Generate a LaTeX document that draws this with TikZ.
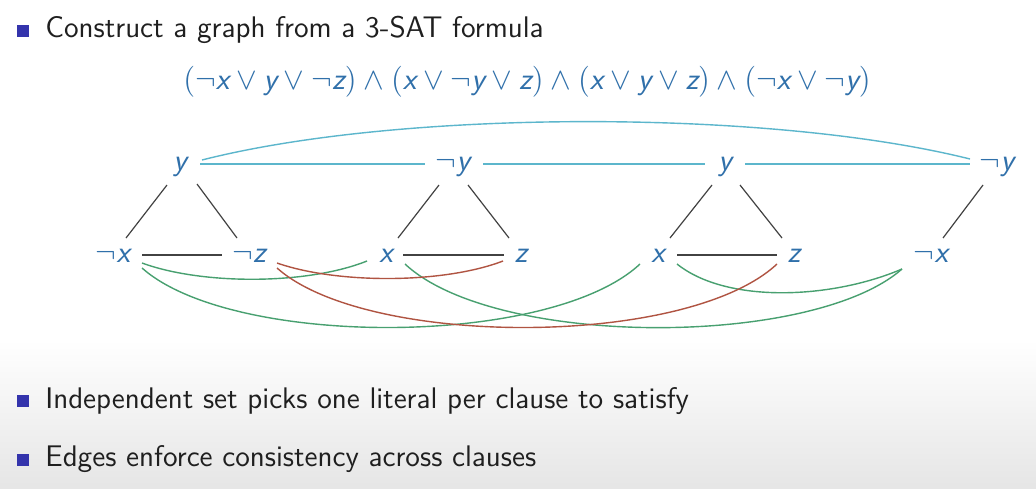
\RequirePackage{fix-cm}
\documentclass[tikz,border=0pt]{standalone}
\usetikzlibrary{calc}
\definecolor{litblue}{RGB}{48,112,170}
\definecolor{bulblue}{RGB}{52,52,172}
\definecolor{cyanline}{RGB}{92,182,204}
\definecolor{greenline}{RGB}{72,160,112}
\definecolor{redline}{RGB}{176,84,66}
\definecolor{darkline}{RGB}{66,66,66}
\newcommand{\lit}[1]{\mbox{\sffamily\itshape #1}}
\begin{document}
\begin{tikzpicture}[x=0.5pt,y=-0.5pt,
  bul/.style={fill=bulblue,minimum size=6pt,inner sep=0pt,draw=none},
  bodytext/.style={anchor=base west,inner sep=0pt,font=\sffamily\fontsize{14.9}{18}\selectfont,text=black!88},
  litnode/.style={anchor=base,inner sep=0pt,text=litblue,font=\sffamily\itshape\fontsize{15.5}{19}\selectfont},
  tri/.style={draw=darkline,line width=0.6pt},
  cy/.style={draw=cyanline,line width=0.7pt},
  gr/.style={draw=greenline,line width=0.7pt},
  rd/.style={draw=redline,line width=0.7pt}]
\useasboundingbox (0,0) rectangle (1036,488);
\fill[white] (0,0) rectangle (1036,341);
\shade[top color=white,bottom color=black!10] (0,340) rectangle (1036,488);

% bullets and text
\node[bul] (b1) at (22.5,31) {};
\node[bodytext] (t1) at (45,37) {Construct a graph from a 3-SAT formula};
\node[bul] (b2) at (22.5,400.5) {};
\node[bodytext] (t2) at (45,408) {Independent set picks one literal per clause to satisfy};
\node[bul] (b3) at (22.5,459.5) {};
\node[bodytext] (t3) at (45,466) {Edges enforce consistency across clauses};

% formula
\node[anchor=base,inner sep=0pt,text=litblue,font=\sffamily\fontsize{15.5}{19}\selectfont] (f) at (527,89)
 {$(\neg\lit{x}\vee\lit{y}\vee\neg\lit{z})\wedge(\lit{x}\vee\neg\lit{y}\vee\lit{z})\wedge(\lit{x}\vee\lit{y}\vee\lit{z})\wedge(\neg\lit{x}\vee\neg\lit{y})$};

% literal nodes
\node[litnode] (y1) at (180,170) {y};
\node[litnode] (ny2) at (453,170) {$\neg$y};
\node[litnode] (y3) at (725,170) {y};
\node[litnode] (ny4) at (997,170) {$\neg$y};
\node[litnode] (nx1) at (113,262) {$\neg$x};
\node[litnode] (nz1) at (249,262) {$\neg$z};
\node[litnode] (x2) at (386,262) {x};
\node[litnode] (z2) at (521,262) {z};
\node[litnode] (x3) at (658,262) {x};
\node[litnode] (z3) at (794,262) {z};
\node[litnode] (nx4) at (931,262) {$\neg$x};

% clause triangles
\draw[tri] ([shift={(-13,15)}]y1.base) -- ([shift={(13,-24)}]nx1.base);
\draw[tri] ([shift={(17,14)}]y1.base) -- ([shift={(-12,-24)}]nz1.base);
\draw[tri] ([shift={(29,-7)}]nx1.base) -- ([shift={(-27,-7)}]nz1.base);
\draw[tri] ([shift={(-14,15)}]ny2.base) -- ([shift={(12,-24)}]x2.base);
\draw[tri] ([shift={(15,15)}]ny2.base) -- ([shift={(-12,-24)}]z2.base);
\draw[tri] ([shift={(17,-7)}]x2.base) -- ([shift={(-17,-7)}]z2.base);
\draw[tri] ([shift={(-13,15)}]y3.base) -- ([shift={(12,-24)}]x3.base);
\draw[tri] ([shift={(15,15)}]y3.base) -- ([shift={(-12,-24)}]z3.base);
\draw[tri] ([shift={(19,-7)}]x3.base) -- ([shift={(-17,-7)}]z3.base);
\draw[tri] ([shift={(-14,15)}]ny4.base) -- ([shift={(12,-24)}]nx4.base);

% y conflicts
\draw[cy] ([shift={(20,-6)}]y1.base) -- ([shift={(-28,-6)}]ny2.base);
\draw[cy] ([shift={(30,-6)}]ny2.base) -- ([shift={(-20,-6)}]y3.base);
\draw[cy] ([shift={(20,-6)}]y3.base) -- ([shift={(-27,-6)}]ny4.base);
\draw[cy] ([shift={(22,-10)}]y1.base) .. controls +(200,-51) and +(-200,-50) .. ([shift={(-27,-11)}]ny4.base);

% x conflicts
\draw[gr] ([shift={(29,1)}]nx1.base) .. controls +(60,22) and +(-60,24) .. ([shift={(-19,-1)}]x2.base);
\draw[gr] ([shift={(29,6)}]nx1.base) .. controls +(90,80) and +(-90,84) .. ([shift={(-18,2)}]x3.base);
\draw[gr] ([shift={(19,2)}]x2.base) .. controls +(90,84) and +(-90,79) .. ([shift={(-29,7)}]nx4.base);
\draw[gr] ([shift={(19,2)}]x3.base) .. controls +(50,40) and +(-70,30) .. ([shift={(-29,7)}]nx4.base);

% z conflicts
\draw[rd] ([shift={(28,1)}]nz1.base) .. controls +(60,21) and +(-60,23) .. ([shift={(-18,-1)}]z2.base);
\draw[rd] ([shift={(28,6)}]nz1.base) .. controls +(90,80) and +(-90,84) .. ([shift={(-17,2)}]z3.base);
\end{tikzpicture}
\end{document}
